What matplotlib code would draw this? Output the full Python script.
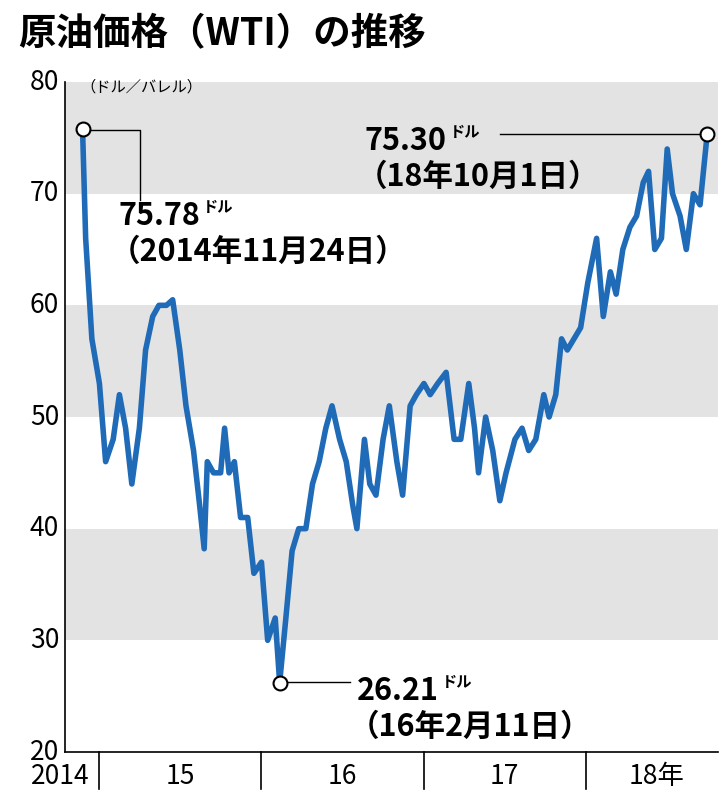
import matplotlib
matplotlib.use("Agg")
import matplotlib.pyplot as plt
import matplotlib.dates as mdates
import pandas as pd

plt.rcParams['font.family'] = ['Noto Sans CJK JP', 'DejaVu Sans']

dates = ["2014-11-24", "2014-12-01", "2014-12-15", "2015-01-01", "2015-01-15", "2015-02-01",
         "2015-02-15", "2015-03-01", "2015-03-15", "2015-04-01", "2015-04-15", "2015-05-01",
         "2015-05-15", "2015-06-01", "2015-06-15", "2015-07-01", "2015-07-15", "2015-08-01",
         "2015-08-15", "2015-08-25", "2015-09-01", "2015-09-15", "2015-10-01", "2015-10-10",
         "2015-10-20", "2015-11-01", "2015-11-15", "2015-12-01", "2015-12-15", "2016-01-01",
         "2016-01-15", "2016-02-01", "2016-02-11", "2016-02-25", "2016-03-10", "2016-03-25",
         "2016-04-10", "2016-04-25", "2016-05-10", "2016-05-25", "2016-06-08", "2016-06-25",
         "2016-07-10", "2016-07-25", "2016-08-03", "2016-08-20", "2016-09-01", "2016-09-15",
         "2016-10-01", "2016-10-15", "2016-11-01", "2016-11-14", "2016-12-01", "2016-12-15",
         "2017-01-01", "2017-01-15", "2017-02-01", "2017-02-20", "2017-03-10", "2017-03-25",
         "2017-04-12", "2017-04-25", "2017-05-04", "2017-05-20", "2017-06-05", "2017-06-21",
         "2017-07-05", "2017-07-25", "2017-08-10", "2017-08-25", "2017-09-10", "2017-09-28",
         "2017-10-10", "2017-10-25", "2017-11-07", "2017-11-20", "2017-12-05", "2017-12-20",
         "2018-01-05", "2018-01-25", "2018-02-09", "2018-02-25", "2018-03-10", "2018-03-25",
         "2018-04-10", "2018-04-25", "2018-05-10", "2018-05-22", "2018-06-05", "2018-06-20",
         "2018-07-03", "2018-07-15", "2018-08-01", "2018-08-15", "2018-08-31", "2018-09-15",
         "2018-10-01"]
prices = [75.78, 66, 57, 53, 46, 48, 52, 49, 44, 49, 56, 59,
          60, 60, 60.5, 56, 51, 47, 42, 38.2, 46, 45, 45, 49,
          45, 46, 41, 41, 36, 37, 30, 32, 26.21, 32, 38, 40,
          40, 44, 46, 49, 51, 48, 46, 42, 40, 48, 44, 43,
          48, 51, 46, 43, 51, 52, 53, 52, 53, 54, 48, 48,
          53, 49, 45, 50, 47, 42.5, 45, 48, 49, 47, 48, 52,
          50, 52, 57, 56, 57, 58, 62, 66, 59, 63, 61, 65,
          67, 68, 71, 72, 65, 66, 74, 70, 68, 65, 70, 69,
          75.30]

year_ticks = ["2015-01-01", "2016-01-01", "2017-01-01", "2018-01-01"]
year_labels = ["2014", "15", "16", "17", "18年"]
year_label_pos = ["2014-10-05", "2015-07-02", "2016-07-02", "2017-07-02", "2018-06-10"]
y_ticks = [20, 30, 40, 50, 60, 70, 80]

x = mdates.date2num(pd.to_datetime(dates))
blue = "#1f6bb8"

fig = plt.figure(figsize=(7.28, 8), dpi=100)
ax = fig.add_axes([0.089, 0.06, 0.897, 0.8375])

for lo in (30, 50, 70):
    ax.axhspan(lo, lo + 10, color="#e3e3e3", lw=0, zorder=0)

ax.plot(x, prices, color=blue, lw=4, solid_joinstyle="round", zorder=2)

xmin = mdates.date2num(pd.Timestamp("2014-10-15"))
xmax = mdates.date2num(pd.Timestamp("2018-10-25"))
ax.set_xlim(xmin, xmax)
ax.set_ylim(20, 80)
ax.set_yticks(y_ticks)
ax.tick_params(axis="y", labelsize=19, length=0, pad=4)
for lab in ax.get_yticklabels():
    lab.set_verticalalignment("center")
ax.set_xticks([])
for s in ("top", "right"):
    ax.spines[s].set_visible(False)
ax.spines["left"].set_linewidth(1.2)
ax.spines["bottom"].set_linewidth(1.2)

# year separators below axis
for d in year_ticks:
    xv = mdates.date2num(pd.Timestamp(d))
    ax.plot([xv, xv], [20, 20 - 3.3], color="black", lw=1.2, clip_on=False)
for lab, d in zip(year_labels, year_label_pos):
    ax.text(mdates.date2num(pd.Timestamp(d)), 20 - 2.2, lab, ha="center", va="center",
            fontsize=19)

# markers and callouts
idx = [0, 32, len(prices) - 1]
for i in idx:
    ax.plot(x[i], prices[i], "o", ms=10, mfc="white", mec="black", mew=1.5, zorder=5)

def tp(xp, yp):
    return xp / 728, 1 - yp / 800

line_kw = dict(color="black", lw=1, transform=fig.transFigure)
fig.add_artist(plt.Line2D([tp(90, 0)[0], tp(140, 0)[0], tp(140, 0)[0]],
                          [tp(0, 130)[1], tp(0, 130)[1], tp(0, 200)[1]], **line_kw))
fig.add_artist(plt.Line2D([tp(288, 0)[0], tp(350, 0)[0]],
                          [tp(0, 682)[1], tp(0, 682)[1]], **line_kw))
fig.add_artist(plt.Line2D([tp(500, 0)[0], tp(700, 0)[0]],
                          [tp(0, 134)[1], tp(0, 134)[1]], **line_kw))

def callout(xp, yp, num, sub):
    t = fig.text(*tp(xp, yp), num, fontsize=22, fontweight="bold", va="baseline")
    fig.canvas.draw()
    bb = t.get_window_extent()
    fig.text((bb.x1 + 3) / 728, (bb.y1 - 12) / 800, "ドル", fontsize=11, fontweight="bold",
             va="baseline")
    fig.text(*tp(xp - 8, yp + 36), sub, fontsize=22, fontweight="bold", va="baseline")

callout(118, 225, "75.78", "（2014年11月24日）")
callout(357, 700, "26.21", "（16年2月11日）")
callout(365, 150, "75.30", "（18年10月1日）")

fig.text(*tp(18, 45), "原油価格（WTI）の推移", fontsize=27, fontweight="bold", va="baseline")
fig.text(*tp(80, 92), "（ドル／バレル）", fontsize=11, va="baseline")

fig.savefig("out.png", dpi=100)
